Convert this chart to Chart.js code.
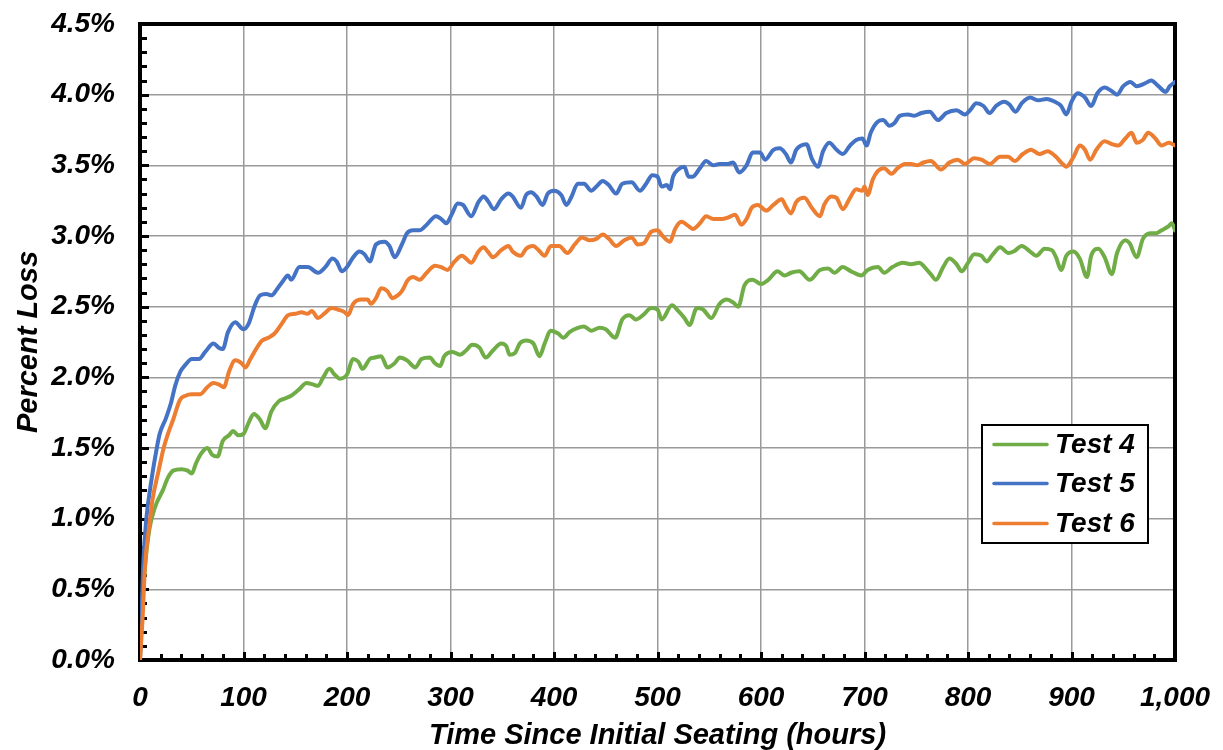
<!DOCTYPE html>
<html>
<head>
<meta charset="utf-8">
<script src="https://cdn.jsdelivr.net/npm/chart.js@4.4.1/dist/chart.umd.min.js"></script>
<style>
  html, body { margin: 0; padding: 0; background: #fff; }
  #c { display: block; }
</style>
</head>
<body>
<canvas id="c" width="1223" height="750"></canvas>
<script>
// ---------------- DATA ----------------
const seriesLabels = ['Test 4', 'Test 5', 'Test 6'];

const test4Hours = [
  0,1,3,6,9,12,16,22,27,32,
  40,46,50,54,59,65,70,75,80,86,
  90,95,100,105,110,116,121,127,134,140,
  146,153,161,167,172,177,183,188,193,200,
  206,211,215,222,227,233,239,246,251,258,
  266,272,280,285,290,294,302,309,315,321,
  328,334,341,349,354,357,362,367,373,380,
  386,391,397,404,409,415,423,429,436,444,
  450,459,466,473,479,486,494,500,504,514,
  520,526,531,538,544,552,560,567,573,578,
  584,592,600,607,616,623,629,637,647,657,
  665,671,679,687,697,703,713,719,727,737,
  745,753,758,764,769,776,782,789,794,800,
  806,813,818,824,831,839,844,852,860,866,
  874,881,885,890,895,902,908,915,919,926,
  932,939,944,952,956,963,969,976,982,987,
  994,997,1000
];
const test4Loss = [
  0,0.25,0.50,0.75,0.92,1.02,1.11,1.20,1.29,1.34,
  1.35,1.34,1.32,1.39,1.46,1.50,1.45,1.44,1.55,1.59,
  1.62,1.59,1.60,1.68,1.74,1.70,1.64,1.76,1.83,1.85,
  1.87,1.91,1.96,1.95,1.94,2.00,2.06,2.02,1.99,2.02,
  2.13,2.11,2.06,2.13,2.14,2.15,2.07,2.10,2.14,2.12,
  2.07,2.13,2.14,2.10,2.08,2.15,2.18,2.16,2.19,2.23,
  2.21,2.14,2.19,2.24,2.22,2.16,2.17,2.24,2.26,2.24,
  2.15,2.24,2.33,2.31,2.28,2.32,2.35,2.36,2.33,2.35,
  2.34,2.28,2.41,2.44,2.41,2.44,2.49,2.48,2.41,2.51,
  2.47,2.42,2.37,2.49,2.48,2.42,2.52,2.55,2.53,2.50,
  2.65,2.69,2.66,2.69,2.75,2.72,2.74,2.75,2.69,2.76,
  2.77,2.74,2.78,2.75,2.72,2.76,2.78,2.74,2.78,2.81,
  2.80,2.81,2.78,2.73,2.69,2.78,2.84,2.80,2.75,2.81,
  2.87,2.86,2.82,2.87,2.92,2.88,2.89,2.93,2.89,2.86,
  2.91,2.90,2.85,2.76,2.86,2.89,2.84,2.71,2.86,2.91,
  2.85,2.73,2.88,2.97,2.95,2.85,2.98,3.02,3.02,3.04,
  3.07,3.09,3.04
];

const test5Hours = [
  0,1.5,3,6,11,16,19,25,30,34,
  39,44,50,57,63,71,76,80,85,92,
  100,105,111,116,122,127,132,138,143,146,
  154,162,172,179,186,190,195,200,206,212,
  217,222,228,236,241,246,253,258,264,270,
  277,286,291,296,301,307,312,320,327,332,
  336,342,349,356,360,368,373,378,383,389,
  394,400,407,412,417,423,429,436,441,447,
  453,460,466,475,483,489,495,500,504,509,
  512,515,520,526,530,534,541,547,554,560,
  568,573,579,586,592,599,604,612,618,624,
  629,634,644,649,655,660,666,673,679,686,
  692,698,702,706,713,718,724,729,734,742,
  748,755,763,771,779,789,797,802,808,815,
  821,827,835,840,846,852,860,868,876,884,
  890,895,900,906,913,919,925,932,938,944,
  950,957,963,971,977,984,991,995,1000
];
const test5Loss = [
  0,0.31,0.66,0.99,1.27,1.49,1.60,1.71,1.82,1.94,
  2.04,2.09,2.13,2.13,2.18,2.24,2.21,2.20,2.32,2.39,
  2.34,2.38,2.51,2.58,2.59,2.58,2.62,2.68,2.72,2.69,
  2.78,2.78,2.74,2.78,2.84,2.82,2.75,2.78,2.85,2.89,
  2.87,2.82,2.94,2.96,2.93,2.85,2.94,3.02,3.04,3.04,
  3.08,3.14,3.12,3.09,3.15,3.23,3.22,3.14,3.24,3.28,
  3.25,3.19,3.26,3.30,3.28,3.20,3.29,3.31,3.28,3.22,
  3.30,3.32,3.29,3.22,3.28,3.37,3.37,3.32,3.35,3.39,
  3.36,3.30,3.37,3.38,3.32,3.37,3.43,3.42,3.35,3.36,
  3.33,3.42,3.47,3.49,3.42,3.42,3.48,3.53,3.50,3.51,
  3.51,3.52,3.45,3.50,3.59,3.59,3.54,3.61,3.62,3.58,
  3.52,3.61,3.65,3.55,3.49,3.60,3.66,3.61,3.58,3.64,
  3.68,3.69,3.64,3.73,3.81,3.82,3.78,3.80,3.85,3.86,
  3.85,3.87,3.88,3.82,3.87,3.89,3.86,3.89,3.94,3.92,
  3.87,3.92,3.95,3.93,3.88,3.94,3.98,3.96,3.97,3.95,
  3.92,3.86,3.95,4.01,3.98,3.92,4.01,4.05,4.03,4.00,
  4.06,4.09,4.06,4.08,4.10,4.06,4.02,4.06,4.09
];

const test6Hours = [
  0,2.6,4.8,9.7,12,18,22.5,27,32,38.6,
  44,50,58,65,71,76,81,86,92,98,
  102,106,113,118,124,130,137,143,150,156,
  162,166,172,178,185,191,198,201,206,214,
  220,223,228,233,239,244,249,253,259,264,
  270,277,285,291,297,304,311,315,320,327,
  332,336,341,349,356,360,368,373,380,385,
  391,397,405,413,420,427,434,441,447,453,
  460,468,475,481,487,494,500,505,512,517,
  523,530,534,541,547,554,562,568,575,581,
  586,591,597,605,612,620,624,629,634,642,
  649,657,661,668,673,679,686,692,698,700,
  703,708,713,719,726,732,739,745,751,757,
  764,774,782,790,797,806,813,821,831,839,
  845,853,861,869,877,885,890,895,902,908,
  913,918,924,932,939,945,952,958,963,969,
  974,981,987,994,1000
];
const test6Loss = [
  0,0.31,0.66,0.99,1.13,1.34,1.49,1.60,1.70,1.84,
  1.87,1.88,1.88,1.93,1.96,1.95,1.93,2.04,2.12,2.10,
  2.07,2.12,2.21,2.26,2.28,2.31,2.38,2.44,2.45,2.46,
  2.45,2.47,2.42,2.45,2.49,2.48,2.46,2.44,2.52,2.55,
  2.55,2.52,2.56,2.63,2.61,2.56,2.58,2.61,2.69,2.71,
  2.69,2.74,2.79,2.78,2.76,2.82,2.86,2.84,2.81,2.89,
  2.92,2.89,2.85,2.90,2.93,2.89,2.86,2.91,2.93,2.90,
  2.86,2.93,2.93,2.88,2.94,2.99,2.97,2.98,3.01,2.98,
  2.93,2.97,2.99,2.94,2.95,3.03,3.04,3.00,2.96,3.05,
  3.10,3.07,3.05,3.09,3.14,3.12,3.12,3.13,3.15,3.08,
  3.12,3.20,3.22,3.18,3.22,3.26,3.21,3.16,3.24,3.27,
  3.20,3.14,3.22,3.28,3.27,3.19,3.27,3.33,3.32,3.35,
  3.29,3.40,3.46,3.48,3.44,3.48,3.51,3.51,3.50,3.52,
  3.53,3.47,3.52,3.54,3.51,3.55,3.54,3.51,3.56,3.56,
  3.53,3.58,3.61,3.58,3.60,3.56,3.52,3.49,3.56,3.64,
  3.61,3.54,3.61,3.67,3.65,3.64,3.69,3.73,3.66,3.68,
  3.73,3.69,3.64,3.66,3.64
];

const xAxisMin = 0, xAxisMax = 1000, xStep = 100, xMinorStep = 20;
const yAxisMin = 0, yAxisMax = 4.5, yStep = 0.5, yMinorStep = 0.1;
const xTitle = 'Time Since Initial Seating (hours)';
const yTitle = 'Percent Loss';

// ---------------- CHART ----------------
const FAMILY = '"Liberation Sans", Arial, Helvetica, sans-serif';
const tickFont = { family: FAMILY, size: 28, style: 'italic', weight: 'bold', lineHeight: 1.2 };
const titleFont = { family: FAMILY, size: 29, style: 'italic', weight: 'bold', lineHeight: 1.2 };
const colors = ['#70AD47', '#4472C4', '#ED7D31'];

function toPoints(xs, ys) {
  const n = Math.min(xs.length, ys.length);
  const out = [];
  for (let i = 0; i < n; i++) out.push({ x: xs[i], y: ys[i] });
  return out;
}

const framePlugin = {
  id: 'frameTicks',
  beforeDatasetsDraw(chart) {
    const { ctx, chartArea: a, scales } = chart;
    const xs = scales.x, ys = scales.y;
    ctx.save();
    ctx.strokeStyle = '#000';
    ctx.lineCap = 'butt';
    ctx.lineWidth = 3;
    const nY = Math.round((yAxisMax - yAxisMin) / yMinorStep);
    for (let i = 1; i < nY; i++) {
      const v = yAxisMin + i * yMinorStep;
      const py = Math.round(ys.getPixelForValue(v)) + 0.5;
      const major = (i % Math.round(yStep / yMinorStep)) === 0;
      ctx.beginPath();
      ctx.moveTo(a.left, py);
      ctx.lineTo(a.left + (major ? 9 : 7), py);
      ctx.stroke();
    }
    const nX = Math.round((xAxisMax - xAxisMin) / xMinorStep);
    for (let i = 1; i < nX; i++) {
      const v = xAxisMin + i * xMinorStep;
      const px = Math.round(xs.getPixelForValue(v)) + 0.5;
      const major = (i % Math.round(xStep / xMinorStep)) === 0;
      ctx.beginPath();
      ctx.moveTo(px, a.bottom);
      ctx.lineTo(px, a.bottom - (major ? 8 : 6));
      ctx.stroke();
    }
    ctx.lineWidth = 4;
    ctx.strokeRect(a.left, a.top, a.right - a.left, a.bottom - a.top);
    ctx.restore();
  }
};

const legendPlugin = {
  id: 'boxLegend',
  afterDraw(chart) {
    const { ctx, chartArea: a } = chart;
    const bx = a.right - 193, by = a.top + 401, bw = 166, bh = 118;
    ctx.save();
    ctx.fillStyle = '#fff';
    ctx.fillRect(bx, by, bw, bh);
    ctx.strokeStyle = '#000';
    ctx.lineWidth = 2;
    ctx.strokeRect(bx, by, bw, bh);
    const rows = [19.5, 58.5, 98.5];
    chart.data.datasets.forEach((ds, i) => {
      const yy = by + rows[i];
      ctx.strokeStyle = ds.borderColor;
      ctx.lineWidth = 3.5;
      ctx.lineCap = 'round';
      ctx.beginPath();
      ctx.moveTo(bx + 12, yy);
      ctx.lineTo(bx + 65, yy);
      ctx.stroke();
      ctx.fillStyle = '#000';
      ctx.font = 'italic bold 28px ' + FAMILY;
      ctx.textBaseline = 'middle';
      ctx.textAlign = 'left';
      ctx.fillText(ds.label, bx + 73, yy + 1);
    });
    ctx.restore();
  }
};

new Chart(document.getElementById('c'), {
  type: 'line',
  data: {
    datasets: [
      { label: seriesLabels[0], data: toPoints(test4Hours, test4Loss), borderColor: colors[0], order: 2 },
      { label: seriesLabels[1], data: toPoints(test5Hours, test5Loss), borderColor: colors[1], order: 1 },
      { label: seriesLabels[2], data: toPoints(test6Hours, test6Loss), borderColor: colors[2], order: 0 }
    ]
  },
  options: {
    responsive: false,
    animation: false,
    layout: { padding: { left: 0, right: 48, top: 24, bottom: 0 } },
    plugins: { legend: { display: false }, tooltip: { enabled: false } },
    elements: {
      point: { radius: 0 },
      line: { borderWidth: 4, tension: 0.3, cubicInterpolationMode: 'monotone', borderCapStyle: 'round', borderJoinStyle: 'round', fill: false }
    },
    scales: {
      x: {
        type: 'linear', min: xAxisMin, max: xAxisMax,
        ticks: {
          stepSize: xStep, color: '#000', font: tickFont, padding: 21, maxRotation: 0, autoSkip: false,
          callback: v => Number(v).toLocaleString('en-US')
        },
        grid: { color: '#9a9a9a', lineWidth: 1.5, drawTicks: false },
        border: { display: false },
        title: { display: true, text: xTitle, color: '#000', font: titleFont, padding: { top: 0, bottom: -3 } },
        afterFit(s) { s.height = 90; s.paddingLeft = 0; s.paddingRight = 0; }
      },
      y: {
        type: 'linear', min: yAxisMin, max: yAxisMax,
        ticks: {
          stepSize: yStep, color: '#000', font: tickFont, padding: 25,
          callback: v => Number(v).toFixed(1) + '%'
        },
        grid: { color: '#9a9a9a', lineWidth: 1.5, drawTicks: false },
        border: { display: false },
        title: { display: true, text: yTitle, color: '#000', font: titleFont, padding: { top: 12, bottom: 0 } },
        afterFit(s) { s.width = 140; s.paddingTop = 0; s.paddingBottom = 0; }
      }
    }
  },
  plugins: [framePlugin, legendPlugin]
});
</script>
</body>
</html>
